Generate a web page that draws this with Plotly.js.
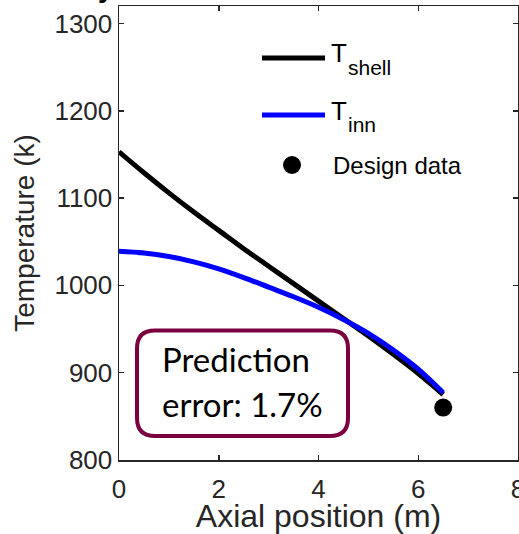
<!DOCTYPE html>
<html>
<head>
<meta charset="utf-8">
<script src="https://cdn.plot.ly/plotly-3.0.1.min.js"></script>
<style>html,body{margin:0;padding:0;background:#fff;}#chart{width:519px;height:534px;}</style>
</head>
<body>
<div id="chart"></div>
<script>
// ---- data ----
var axialPos = [0, 0.5, 1, 1.5, 2, 2.5, 3, 3.5, 4, 4.5, 5, 5.5, 6, 6.5];
var tShell   = [1153, 1129, 1106, 1084, 1063, 1042, 1022, 1002, 982, 962, 942, 921, 899, 875];
var tInn     = [1039, 1037, 1033, 1027, 1019, 1009, 998, 987, 975, 961, 945, 926, 904, 877];
var designX  = [6.5];
var designY  = [860];
var xTicks   = [0, 2, 4, 6, 8];
var yTicks   = [800, 900, 1000, 1100, 1200, 1300];
var legendNames = ['T', 'shell', 'T', 'inn', 'Design data'];
var boxLines = ['Prediction', 'error: 1.7%'];

// ---- layout helpers (pixel -> paper) ----
var W = 519, H = 534, ML = 119, MR = 1, MT = 6, MB = 74;
var PW = W - ML - MR, PH = H - MT - MB;
function px(x) { return (x - ML) / PW; }
function py(y) { return (H - MB - y) / PH; }

var AX = '#262626';
var SANS = 'Liberation Sans, Arial, Helvetica, sans-serif';
var BOXFONT = 'Lato, Carlito, Calibri, sans-serif';

var traces = [
  { x: axialPos, y: tShell, type: 'scatter', mode: 'lines', name: 'T_shell',
    line: { color: '#000000', width: 5, shape: 'spline', smoothing: 1 }, showlegend: false },
  { x: axialPos, y: tInn, type: 'scatter', mode: 'lines', name: 'T_inn',
    line: { color: '#0000ff', width: 5, shape: 'spline', smoothing: 1 }, showlegend: false },
  { x: designX, y: designY, type: 'scatter', mode: 'markers', name: 'Design data',
    marker: { color: '#000000', size: 18 }, showlegend: false }
];

// rounded box path
function roundRect(x0, y0, x1, y1, r) {
  var rx = r / PW, ry = r / PH;
  var L = px(x0), R = px(x1), T = py(y0), B = py(y1);
  return 'M' + (L + rx) + ',' + T +
    ' L' + (R - rx) + ',' + T +
    ' Q' + R + ',' + T + ' ' + R + ',' + (T - ry) +
    ' L' + R + ',' + (B + ry) +
    ' Q' + R + ',' + B + ' ' + (R - rx) + ',' + B +
    ' L' + (L + rx) + ',' + B +
    ' Q' + L + ',' + B + ' ' + L + ',' + (B + ry) +
    ' L' + L + ',' + (T - ry) +
    ' Q' + L + ',' + T + ' ' + (L + rx) + ',' + T + ' Z';
}

var shapes = [
  { type: 'line', xref: 'paper', yref: 'paper', x0: px(262), x1: px(325), y0: py(58), y1: py(58),
    line: { color: '#000000', width: 5 } },
  { type: 'line', xref: 'paper', yref: 'paper', x0: px(262), x1: px(325), y0: py(115), y1: py(115),
    line: { color: '#0000ff', width: 5 } },
  { type: 'circle', xref: 'paper', yref: 'paper', xsizemode: 'pixel', ysizemode: 'pixel',
    xanchor: px(292), yanchor: py(165), x0: -9, x1: 9, y0: -9, y1: 9,
    fillcolor: '#000000', line: { width: 0 } },
  { type: 'path', xref: 'paper', yref: 'paper', path: roundRect(137, 330.5, 348, 436, 18),
    line: { color: '#7a0040', width: 4 }, fillcolor: 'rgba(0,0,0,0)' }
];

function ann(text, x, y, size, family) {
  return { text: text, xref: 'paper', yref: 'paper', x: px(x), y: py(y),
    xanchor: 'left', yanchor: 'middle', showarrow: false,
    font: { family: family || SANS, size: size, color: '#000000' } };
}

var annotations = [
  ann(legendNames[0], 329, 62.5 - 0.35 * 26, 26),
  ann(legendNames[1], 346, 75 - 0.35 * 21, 21),
  ann(legendNames[2], 329, 120 - 0.35 * 26, 26),
  ann(legendNames[3], 346, 131.7 - 0.35 * 21, 21),
  ann(legendNames[4], 331, 174 - 0.35 * 24, 24),
  ann(boxLines[0], 160, 371.7 - 0.39 * 33, 33, BOXFONT),
  ann(boxLines[1], 160, 416.7 - 0.39 * 33, 33, BOXFONT)
];
var cut = ann('<b>y</b>', 106, -12, 28);
cut.xanchor = 'center';
annotations.push(cut);

var layout = {
  width: W, height: H,
  margin: { l: ML, r: MR, t: MT, b: MB, pad: 0 },
  paper_bgcolor: '#ffffff', plot_bgcolor: '#ffffff',
  showlegend: false,
  xaxis: {
    range: [0, 8], tickvals: xTicks, ticktext: xTicks.map(String),
    ticks: 'inside', ticklen: 5, tickwidth: 1.5, tickcolor: AX,
    showline: true, linecolor: AX, linewidth: 1.5, mirror: 'ticks',
    showgrid: false, zeroline: false, ticklabelstandoff: 5,
    ticklabeloverflow: 'allow',
    tickfont: { family: SANS, size: 26, color: AX },
    title: { text: 'Axial position (m)', font: { family: SANS, size: 32, color: AX }, standoff: 0 }
  },
  yaxis: {
    range: [800, 1320], tickvals: yTicks, ticktext: yTicks.map(String),
    ticks: 'inside', ticklen: 5, tickwidth: 1.5, tickcolor: AX,
    showline: true, linecolor: AX, linewidth: 1.5, mirror: 'ticks',
    showgrid: false, zeroline: false,
    tickfont: { family: SANS, size: 26, color: AX },
    title: { text: 'Temperature (k)', font: { family: SANS, size: 28, color: AX }, standoff: 11 }
  },
  shapes: shapes,
  annotations: annotations
};

Plotly.newPlot('chart', traces, layout, { staticPlot: true, displayModeBar: false });
</script>
</body>
</html>
